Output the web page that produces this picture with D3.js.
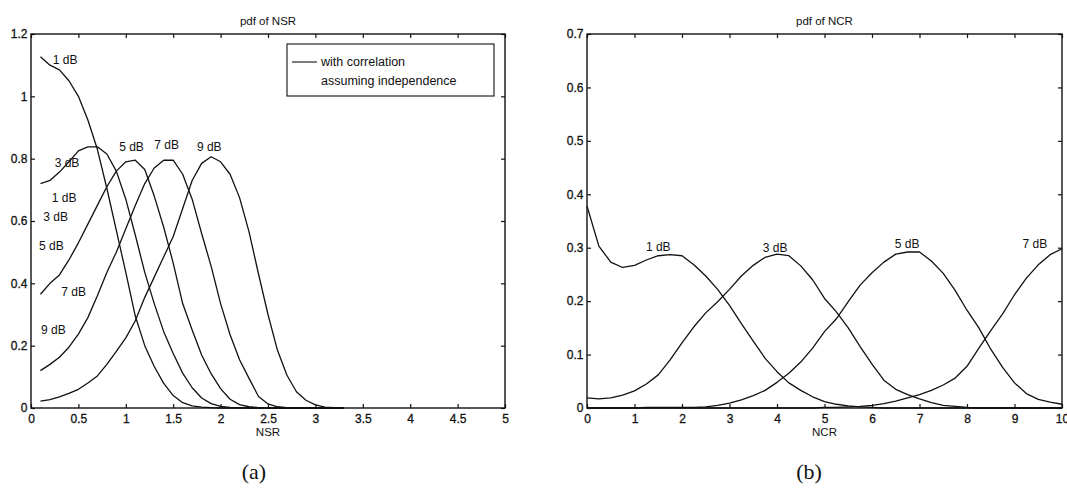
<!DOCTYPE html>
<html>
<head>
<meta charset="utf-8">
<script src="https://cdn.jsdelivr.net/npm/d3@7"></script>
<style>
  body { margin: 0; background: #fff; }
  svg { display: block; font-family: "Liberation Sans", Arial, Helvetica, sans-serif; }
  .tick text { font-size: 12px; fill: #111; stroke: #111; stroke-width: 0.3px; }
  .tick line { stroke: #111; stroke-width: 1.2px; }
  .curve { fill: none; stroke: #111; stroke-width: 1.3px; stroke-linejoin: round; }
  .lab { font-size: 12px; fill: #111; }
</style>
</head>
<body>
<svg id="fig" width="1067" height="496"></svg>
<script>
// ---- (a) pdf of NSR: "with correlation" curves, one per SNR ----
const nsrX = [0.1,0.2,0.3,0.4,0.5,0.6,0.7,0.8,0.9,1.0,1.1,1.2,1.3,1.4,1.5,1.6,1.7,1.8,1.9,2.0,
              2.1,2.2,2.3,2.4,2.5,2.6,2.7,2.8,2.9,3.0,3.1,3.2,3.3];
const nsr1dB = [1.127,1.100,1.085,1.050,1.000,0.924,0.830,0.705,0.570,0.435,0.295,0.200,0.133,0.079,
                0.040,0.017,0.007,0.003,0.001,0,0,0,0,0,0,0,0,0,0,0,0,0,0];
const nsr3dB = [0.720,0.730,0.757,0.790,0.825,0.838,0.838,0.815,0.760,0.670,0.555,0.435,0.335,0.245,
                0.175,0.112,0.065,0.032,0.014,0.005,0.002,0.001,0,0,0,0,0,0,0,0,0,0,0];
const nsr5dB = [0.365,0.400,0.427,0.475,0.530,0.590,0.650,0.710,0.760,0.790,0.795,0.765,0.680,0.580,
                0.465,0.335,0.250,0.170,0.110,0.062,0.028,0.011,0.004,0.001,0,0,0,0,0,0,0,0,0];
const nsr7dB = [0.120,0.140,0.163,0.195,0.237,0.290,0.360,0.435,0.500,0.575,0.650,0.720,0.770,0.795,
                0.795,0.750,0.670,0.560,0.455,0.335,0.235,0.155,0.095,0.037,0.013,0.004,0.001,0,0,0,0,0,0];
const nsr9dB = [0.022,0.027,0.036,0.047,0.060,0.080,0.103,0.140,0.182,0.225,0.280,0.355,0.420,0.485,
                0.550,0.640,0.730,0.785,0.806,0.790,0.750,0.675,0.565,0.430,0.300,0.185,0.105,0.052,
                0.025,0.010,0.003,0.001,0];
const nsrSeries = [nsr1dB, nsr3dB, nsr5dB, nsr7dB, nsr9dB];
const nsrTicksX = [0,0.5,1,1.5,2,2.5,3,3.5,4,4.5,5];
const nsrTicksY = [0,0.2,0.4,0.6,0.8,1,1.2];
// curve labels, anchored at data coordinates (left edge, vertical middle)
const nsrLabels = [
  {t:"1 dB", x:0.23, y:1.117}, {t:"5 dB", x:0.93, y:0.838}, {t:"7 dB", x:1.30, y:0.844},
  {t:"9 dB", x:1.75, y:0.838}, {t:"3 dB", x:0.25, y:0.786}, {t:"1 dB", x:0.22, y:0.675},
  {t:"3 dB", x:0.13, y:0.614}, {t:"5 dB", x:0.085, y:0.52}, {t:"7 dB", x:0.32, y:0.373},
  {t:"9 dB", x:0.105, y:0.25}
];
const legendItems = ["with correlation", "assuming independence"];

// ---- (b) pdf of NCR ----
const ncrX = [0,0.25,0.5,0.75,1,1.25,1.5,1.75,2,2.25,2.5,2.75,3,3.25,3.5,3.75,4,4.25,4.5,4.75,
              5,5.25,5.5,5.75,6,6.25,6.5,6.75,7,7.25,7.5,7.75,8,8.25,8.5,8.75,9,9.25,9.5,9.75,10];
const ncr1dB = [0.378,0.303,0.273,0.263,0.267,0.277,0.285,0.287,0.285,0.268,0.247,0.222,0.192,0.158,
                0.125,0.093,0.068,0.047,0.033,0.021,0.012,0.007,0.004,0.002,0.001,
                0,0,0,0,0,0,0,0,0,0,0,0,0,0,0,0];
const ncr3dB = [0.019,0.017,0.019,0.024,0.032,0.045,0.062,0.090,0.122,0.152,0.178,0.199,0.222,0.247,
                0.267,0.282,0.288,0.285,0.266,0.240,0.205,0.180,0.150,0.115,0.082,0.052,0.035,0.025,
                0.017,0.010,0.005,0.003,0.001,0,0,0,0,0,0,0,0];
const ncr5dB = [0,0,0,0,0,0.001,0.001,0.001,0.001,0.001,0.002,0.005,0.009,0.015,0.023,0.033,0.048,
                0.065,0.086,0.112,0.143,0.167,0.199,0.230,0.253,0.273,0.288,0.292,0.292,0.275,0.252,
                0.220,0.183,0.150,0.110,0.076,0.047,0.027,0.016,0.011,0.007];
const ncr7dB = [0,0,0,0,0,0,0,0,0,0,0,0,0,0,0,0,0,0,0,0,0.001,0.001,0.002,0.003,0.005,0.008,0.013,
                0.019,0.025,0.033,0.043,0.056,0.078,0.112,0.145,0.176,0.212,0.243,0.268,0.287,0.298];
const ncrSeries = [ncr1dB, ncr3dB, ncr5dB, ncr7dB];
const ncrTicksX = [0,1,2,3,4,5,6,7,8,9,10];
const ncrTicksY = [0,0.1,0.2,0.3,0.4,0.5,0.6,0.7];
const ncrLabels = [
  {t:"1 dB", x:1.24, y:0.302}, {t:"3 dB", x:3.70, y:0.300},
  {t:"5 dB", x:6.48, y:0.307}, {t:"7 dB", x:9.17, y:0.307}
];

const svg = d3.select("#fig");

function panel(box, xDom, yDom, ticksX, ticksY, xs, series, labels, title, xName, caption, capX) {
  const x = d3.scaleLinear().domain(xDom).range([box.left, box.right]);
  const y = d3.scaleLinear().domain(yDom).range([box.bottom, box.top]);
  const g = svg.append("g");
  const tk = 4;

  g.append("g").attr("transform", `translate(0,${box.bottom})`)
    .call(d3.axisBottom(x).tickValues(ticksX).tickFormat(String).tickSize(-tk).tickPadding(6.5))
    .call(a => a.select(".domain").remove());
  g.append("g").attr("transform", `translate(${box.left},0)`)
    .call(d3.axisLeft(y).tickValues(ticksY).tickFormat(String).tickSize(-tk).tickPadding(3.5))
    .call(a => a.select(".domain").remove());
  g.append("g").attr("transform", `translate(0,${box.top})`)
    .call(d3.axisTop(x).tickValues(ticksX).tickFormat("").tickSize(-tk))
    .call(a => a.select(".domain").remove());
  g.append("g").attr("transform", `translate(${box.right},0)`)
    .call(d3.axisRight(y).tickValues(ticksY).tickFormat("").tickSize(-tk))
    .call(a => a.select(".domain").remove());
  g.selectAll(".tick text").attr("font-family", null).attr("font-size", null);

  g.append("rect")
    .attr("x", box.left).attr("y", box.top)
    .attr("width", box.right - box.left).attr("height", box.bottom - box.top)
    .attr("fill", "none").attr("stroke", "#111").attr("stroke-width", 1.4);

  const line = d3.line().x((d, i) => x(xs[i])).y(d => y(d));
  g.selectAll("path.curve").data(series).join("path")
    .attr("class", "curve").attr("d", line);

  g.selectAll("text.lab").data(labels).join("text")
    .attr("class", "lab")
    .attr("x", d => x(d.x)).attr("y", d => y(d.y)).attr("dy", "0.35em")
    .text(d => d.t);

  const cx = (box.left + box.right) / 2;
  g.append("text").attr("x", cx).attr("y", 24.5).attr("text-anchor", "middle")
    .attr("font-size", 11.5).attr("fill", "#111").text(title);
  g.append("text").attr("x", cx).attr("y", 436).attr("text-anchor", "middle")
    .attr("font-size", 11.5).attr("fill", "#111").text(xName);
  g.append("text").attr("x", capX).attr("y", 479).attr("text-anchor", "middle")
    .attr("font-family", "'Liberation Serif', 'DejaVu Serif', serif")
    .attr("font-size", 22).attr("fill", "#111").text(caption);
  return g;
}

const gA = panel({left:31, right:505, top:34, bottom:408}, [0,5], [0,1.2],
  nsrTicksX, nsrTicksY, nsrX, nsrSeries, nsrLabels, "pdf of NSR", "NSR", "(a)", 254);

panel({left:587, right:1062, top:34, bottom:408}, [0,10], [0,0.7],
  ncrTicksX, ncrTicksY, ncrX, ncrSeries, ncrLabels, "pdf of NCR", "NCR", "(b)", 809);

// legend box for panel (a)
const lg = gA.append("g");
lg.append("rect").attr("x", 287).attr("y", 44).attr("width", 207).attr("height", 52)
  .attr("fill", "#fff").attr("stroke", "#111").attr("stroke-width", 1.1);
lg.append("line").attr("x1", 292).attr("x2", 317).attr("y1", 62).attr("y2", 62)
  .attr("stroke", "#111").attr("stroke-width", 1.1);
lg.selectAll("text").data(legendItems).join("text")
  .attr("x", 321).attr("y", (d, i) => 62 + i * 18.5).attr("dy", "0.35em")
  .attr("font-size", 12.5).attr("fill", "#111").text(d => d);
</script>
</body>
</html>
